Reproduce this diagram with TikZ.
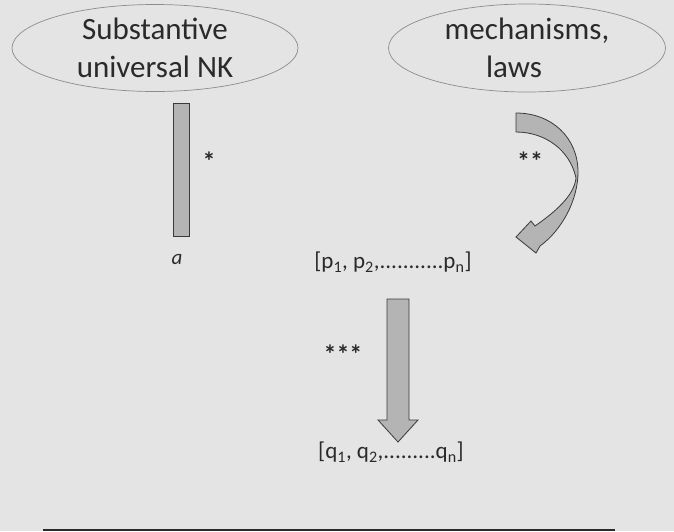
\documentclass[tikz,border=0pt]{standalone}
\usepackage{fontspec}
\setmainfont{Carlito}
\usetikzlibrary{shapes.geometric}
\definecolor{bg}{HTML}{E4E4E4}
\definecolor{ink}{HTML}{2A2A2A}
\definecolor{ovalline}{HTML}{8C8C8C}
\definecolor{shapefill}{HTML}{B4B4B4}
\definecolor{shapeline}{HTML}{3A3A3A}
\begin{document}
\begin{tikzpicture}[x=1pt,y=-1pt,
  oval/.style={ellipse, draw=ovalline, line width=0.7pt, align=center, text=ink,
    font=\fontsize{31}{38}\selectfont, inner sep=0pt},
  barbox/.style={rectangle, draw=shapeline, fill=shapefill, line width=1pt, inner sep=0pt},
  lbl/.style={text=ink, inner sep=0pt},
  starlbl/.style={text=ink, inner sep=0pt, font=\fontsize{26}{26}\selectfont\bfseries},
  blockarrow/.style={draw=shapeline, fill=shapefill, line width=0.8pt, line join=miter}]
\fill[bg] (0,0) rectangle (674,531);
\useasboundingbox (0,0) rectangle (674,531);

\node[oval, minimum width=286pt, minimum height=87pt] (nk) at (155,48) {Substantive\\universal NK};
\node[oval, minimum width=277pt, minimum height=88pt] (mech) at (527,48) {mechanisms,\\laws\hspace*{26pt}};

\node[barbox, minimum width=16pt, minimum height=133pt] (bar) at (181,169.5) {};
\node[starlbl] (star1) at (209,161) {*};
\node[lbl, font=\fontsize{21}{21}\selectfont\itshape] (a) at (177,259) {a};

\node[lbl, font=\fontsize{23}{23}\selectfont] (plist) at (393,262)
  {[p\textsubscript{1}, p\textsubscript{2},...........p\textsubscript{n}]};
\node[lbl, font=\fontsize{23}{23}\selectfont] (qlist) at (391,452)
  {[q\textsubscript{1}, q\textsubscript{2},.........q\textsubscript{n}]};

% curved arrow
\draw[blockarrow] (516,113) .. controls (552,113) and (578,138) .. (578,172)
  .. controls (578,200) and (562,230) .. (540,246)
  -- (536,253) -- (516,237) -- (531,221) -- (535,226)
  .. controls (555,212) and (574,196) .. (576,178)
  .. controls (570,150) and (545,132) .. (516,132) -- cycle;
\node[starlbl] (star2) at (530,161) {**};

% straight arrow
\draw[blockarrow] (387,299) -- (409,299) -- (409,420) -- (418,420) -- (398,442)
  -- (378,420) -- (387,420) -- cycle;
\node[starlbl] (star3) at (343,354) {***};

% bottom rule
\coordinate (ruleL) at (43,529.5);
\coordinate (ruleR) at (615,529.5);
\draw[ink, line width=2pt] (ruleL) -- (ruleR);
\end{tikzpicture}
\end{document}
